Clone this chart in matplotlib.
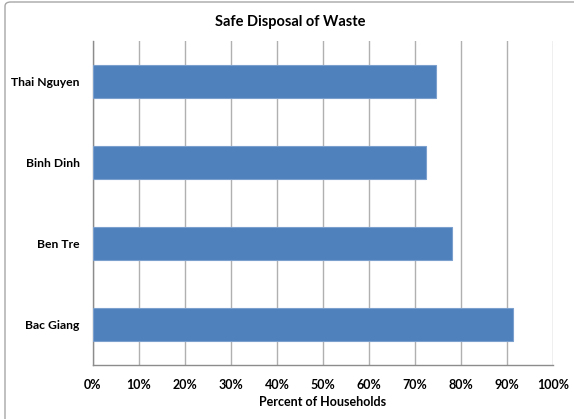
import matplotlib
matplotlib.use("Agg")
import matplotlib.pyplot as plt
from matplotlib.patches import FancyBboxPatch
from matplotlib.ticker import PercentFormatter

categories = ["Bac Giang", "Ben Tre", "Binh Dinh", "Thai Nguyen"]
values = [91.2, 78.0, 72.3, 74.5]
xticks = list(range(0, 101, 10))

plt.rcParams["font.family"] = ["Lato", "DejaVu Sans"]

W, H = 574, 419
fig = plt.figure(figsize=(W / 100, H / 100), dpi=100)

# chart frame (only top and left edges fall inside the image)
frame = FancyBboxPatch((5 / W, -0.2), 1.2, 1.2 - 2 / H, boxstyle="round,pad=0,rounding_size=0.01",
                       transform=fig.transFigure, facecolor="white",
                       edgecolor="#a6a6a6", linewidth=1.0, zorder=0)
fig.patches.append(frame)

ax = fig.add_axes([93 / W, 1 - 365 / H, (553 - 93) / W, (365 - 41) / H])
ax.set_zorder(2)
ax.set_facecolor("none")

ax.barh(categories, values, height=0.4, color="#4F81BD", edgecolor="#7BA0CD",
        linewidth=0.8, zorder=3)

ax.set_xlim(0, 100)
ax.set_ylim(-0.5, len(categories) - 0.5)
ax.set_xticks(xticks)
ax.xaxis.set_major_formatter(PercentFormatter(decimals=0))
ax.grid(axis="x", color="#b0b0b0", linewidth=1.0, zorder=0)

for side in ["top", "right"]:
    ax.spines[side].set_visible(False)
for side in ["left", "bottom"]:
    ax.spines[side].set_color("#8c8c8c")
    ax.spines[side].set_linewidth(1.0)

ax.tick_params(axis="both", length=0, labelsize=9)
ax.tick_params(axis="x", pad=10)
ax.tick_params(axis="y", pad=9.5, labelsize=8.7)
for lbl in ax.get_xticklabels() + ax.get_yticklabels():
    lbl.set_fontweight("bold")

ax.set_xlabel("Percent of Households", fontsize=9, fontweight="bold", labelpad=4)
fig.text(290 / W, 1 - 22 / H, "Safe Disposal of Waste",
         ha="center", va="center", fontsize=10.5, fontweight="bold", zorder=3)

fig.savefig("out.png", dpi=100)
